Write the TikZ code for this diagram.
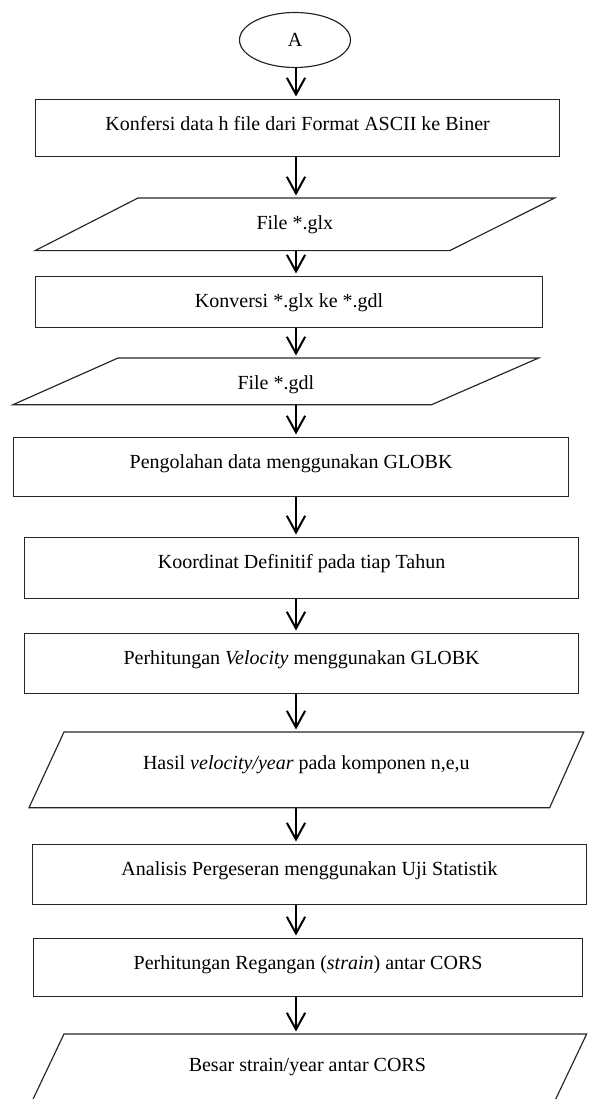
\documentclass[tikz,border=0pt]{standalone}
\usepackage{fontspec}
\setmainfont{Liberation Serif}
\usetikzlibrary{shapes.geometric,arrows.meta}

\tikzset{
  outline/.style={draw=black!85, line width=0.7pt},
  proc/.style={outline, rectangle, inner sep=0pt, anchor=north west, text height=18.5pt},
  data/.style={inner sep=0pt, anchor=north west, text height=18.5pt},
  flow/.style={-{Straight Barb[length=10pt,width=11pt]}, line width=1.2pt, shorten >=1.5pt},
}

\begin{document}
\begin{tikzpicture}[x=0.6pt,y=-0.6pt,font=\fontsize{12}{14}\selectfont]
\clip (0,0) rectangle (590,1099);
\coordinate (ax) at (296,0);
\node [ellipse,outline,minimum width=66.6pt,minimum height=33pt,inner sep=0pt] (a) at (295,40) {A};
\node [proc,minimum width=314.4pt,text depth=15.7pt] (b1) at (35,99) {Konfersi data h file dari Format ASCII ke Biner};
\node [data,minimum width=311.4pt,text depth=12.7pt] (p1) at (35,198) {File *.glx};
\draw [outline] (p1.south west) -- ([xshift=61.8pt]p1.north west) -- (p1.north east) -- ([xshift=-63pt]p1.south east) -- cycle;
\node [proc,minimum width=304.2pt,text depth=12.1pt] (b2) at (35,276) {Konversi *.glx ke *.gdl};
\node [data,minimum width=315pt,text depth=9.1pt] (p2) at (13,358) {File *.gdl};
\draw [outline] (p2.south west) -- ([xshift=63pt]p2.north west) -- (p2.north east) -- ([xshift=-64.2pt]p2.south east) -- cycle;
\node [proc,minimum width=333pt,text depth=16.9pt] (b3) at (13,437) {Pengolahan data menggunakan GLOBK};
\node [proc,minimum width=332.4pt,text depth=18.1pt] (b4) at (24,537) {Koordinat Definitif pada tiap Tahun};
\node [proc,minimum width=332.4pt,text depth=17.5pt] (b5) at (24,633) {Perhitungan \textit{Velocity} menggunakan GLOBK};
\node [data,minimum width=332.4pt,text height=22pt,text depth=23pt] (p3) at (29,732) {Hasil \textit{velocity/year} pada komponen n,e,u};
\draw [outline] (p3.south west) -- ([xshift=21pt]p3.north west) -- (p3.north east) -- ([xshift=-20.4pt]p3.south east) -- cycle;
\node [proc,minimum width=332.4pt,text depth=17.5pt] (b6) at (32,844) {Analisis Pergeseran menggunakan Uji Statistik};
\node [proc,minimum width=329.4pt,text depth=16.3pt] (b7) at (33,938) {Perhitungan Regangan (\textit{strain}) antar CORS};
\node [data,minimum width=334.8pt,text height=22pt,text depth=23pt] (p4) at (28,1034) {Besar strain/year antar CORS};
\draw [outline] (p4.south west) -- ([xshift=21.6pt]p4.north west) -- (p4.north east) -- ([xshift=-21.6pt]p4.south east) -- cycle;
% arrows down the chart
\foreach \u/\v in {a/b1,b1/p1,p1/b2,b2/p2,p2/b3,b3/b4,b4/b5,b5/p3,p3/b6,b6/b7,b7/p4}
  \draw [flow] (\u.south -| ax) -- (\v.north -| ax);
\end{tikzpicture}
\end{document}
